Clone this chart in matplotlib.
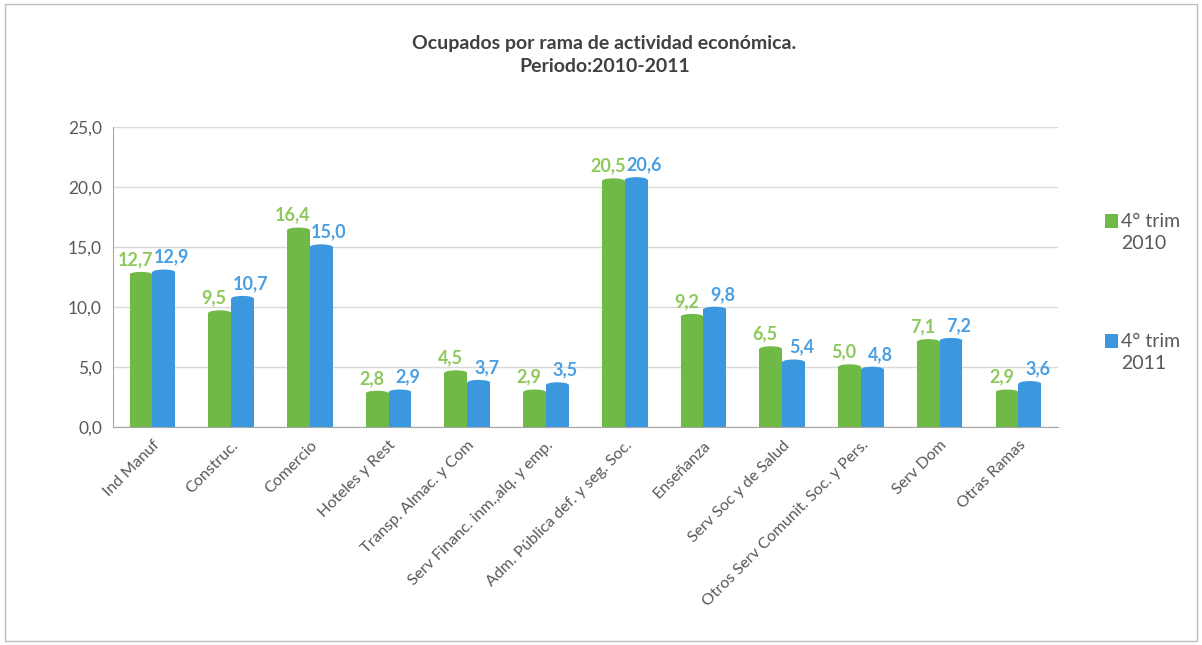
import matplotlib

matplotlib.use("Agg")
import matplotlib.pyplot as plt
import numpy as np
from matplotlib.patches import Ellipse, Rectangle

plt.rcParams["font.family"] = ["Lato", "DejaVu Sans"]

ramas = [
    "Ind Manuf",
    "Construc.",
    "Comercio",
    "Hoteles y Rest",
    "Transp. Almac. y Com",
    "Serv Financ. inm.,alq. y emp.",
    "Adm. Pública def. y seg. Soc.",
    "Enseñanza",
    "Serv Soc y de Salud",
    "Otros Serv Comunit. Soc. y Pers.",
    "Serv Dom",
    "Otras Ramas",
]
trim_2010 = [12.7, 9.5, 16.4, 2.8, 4.5, 2.9, 20.5, 9.2, 6.5, 5.0, 7.1, 2.9]
trim_2011 = [12.9, 10.7, 15.0, 2.9, 3.7, 3.5, 20.6, 9.8, 5.4, 4.8, 7.2, 3.6]
series = ["4° trim\n2010", "4° trim\n2011"]

VERDE = "#6fb947"
AZUL = "#3b97de"
VERDE_TXT = "#8dc95a"
AZUL_TXT = "#4a9fe2"
GRIS = "#595959"

fig = plt.figure(figsize=(12.02, 6.45), dpi=100)
fig.patch.set_facecolor("white")
fig.add_artist(Rectangle((0.004, 0.006), 0.992, 0.988, transform=fig.transFigure,
                         fill=False, edgecolor="#bdbdbd", linewidth=1.0))

ax = fig.add_axes([0.094, 0.338, 0.786, 0.465])
x = np.arange(len(ramas))
ancho = 0.29

for valores, desp, color, color_txt in [(trim_2010, -0.145, VERDE, VERDE_TXT),
                                         (trim_2011, 0.145, AZUL, AZUL_TXT)]:
    ax.bar(x + desp, valores, width=ancho, color=color, edgecolor="none", zorder=3)
    for xi, v in zip(x + desp, valores):
        # tapa y base del cilindro
        ax.add_patch(Ellipse((xi, v), ancho, 0.45, facecolor=color, edgecolor="none", zorder=4))
        ax.add_patch(Ellipse((xi, 0), ancho, 0.45, facecolor=color, edgecolor="none", zorder=3))
        ax.text(xi + (-0.07 if desp < 0 else 0.1), v + 0.55, f"{v:.1f}".replace(".", ","),
                ha="center", va="bottom", fontsize=13, fontweight="bold", color=color_txt, zorder=5)

ax.set_xlim(-0.5, len(ramas) - 0.5)
ax.set_ylim(0, 25)
ax.set_yticks(np.arange(0, 26, 5))
ax.set_yticklabels([f"{t:.1f}".replace(".", ",") for t in np.arange(0, 26, 5)],
                   fontsize=12.5, color=GRIS)
ax.set_xticks(x)
ax.set_xticklabels(ramas, rotation=45, ha="right", rotation_mode="anchor",
                   fontsize=11.5, color=GRIS)
ax.tick_params(axis="both", length=0, pad=8)
ax.grid(axis="y", color="#d9d9d9", linewidth=1.0, zorder=0)
for lado in ["top", "right"]:
    ax.spines[lado].set_visible(False)
ax.spines["left"].set_color("#a6a6a6")
ax.spines["bottom"].set_color("#a6a6a6")

fig.text(0.503, 0.915, "Ocupados por rama de actividad económica.\nPeriodo:2010-2011",
         ha="center", va="center", fontsize=14, fontweight="bold", color="#404040",
         linespacing=1.45)

# leyenda a la derecha
for (etiqueta, color, y0) in [(series[0], VERDE, 0.658), (series[1], AZUL, 0.472)]:
    fig.add_artist(Rectangle((0.9195, y0 - 0.012), 0.011, 0.022, transform=fig.transFigure,
                             facecolor=color, edgecolor="none"))
    fig.text(0.933, y0 + 0.012, etiqueta, ha="left", va="top", fontsize=14,
             color=GRIS, linespacing=1.35)

fig.savefig("out.png", dpi=100)
